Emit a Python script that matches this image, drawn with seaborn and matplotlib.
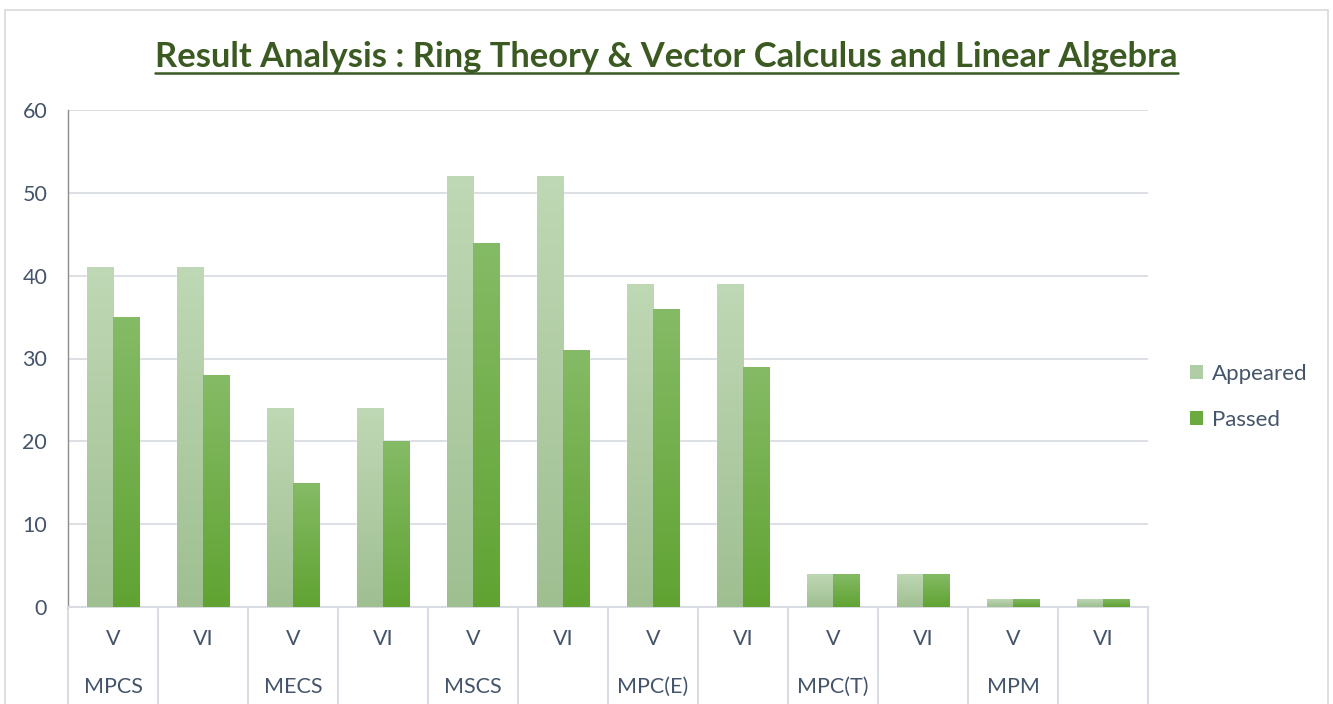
import matplotlib
matplotlib.use("Agg")
import matplotlib.pyplot as plt
import matplotlib.transforms as mtransforms
from matplotlib.colors import LinearSegmentedColormap
from matplotlib.patches import Rectangle
import numpy as np
import pandas as pd
import seaborn as sns

# data
semesters = ["V", "VI", "V", "VI", "V", "VI", "V", "VI", "V", "VI", "V", "VI"]
groups = ["MPCS", "MECS", "MSCS", "MPC(E)", "MPC(T)", "MPM"]
appeared = [41, 41, 24, 24, 52, 52, 39, 39, 4, 4, 1, 1]
passed = [35, 28, 15, 20, 44, 31, 36, 29, 4, 4, 1, 1]
series = ["Appeared", "Passed"]

TEXT = "#44546a"
GRID = "#d9dde3"

slots = [f"{groups[i // 2]}-{semesters[i]}-{i}" for i in range(len(semesters))]
df = pd.DataFrame({
    "slot": slots * 2,
    "count": appeared + passed,
    "series": [series[0]] * len(slots) + [series[1]] * len(slots),
})

sns.set_theme(style="white")
plt.rcParams["font.family"] = ["Lato", "DejaVu Sans"]

fig = plt.figure(figsize=(13.33, 7.04), dpi=100)
ax = fig.add_axes([68 / 1333, 1 - 607 / 704, 1080 / 1333, 497 / 704])

# chart border
fig.patches.append(Rectangle((5 / 1333, -0.05), 1323 / 1333, 1 - 10 / 704 + 0.05,
                             transform=fig.transFigure, fill=False,
                             edgecolor="#d9d9d9", linewidth=1.2))

flat = {"Appeared": "#b1cda6", "Passed": "#72ae48"}
sns.barplot(data=df, x="slot", y="count", hue="series", order=slots,
            hue_order=series, palette=flat, width=0.58, gap=0,
            saturation=1, ax=ax, legend=False, zorder=3)

# vertical gradient on each bar (light top, darker bottom)
cmaps = {
    "Appeared": LinearSegmentedColormap.from_list("a", ["#9fbf91", "#bfd8b5"]),
    "Passed": LinearSegmentedColormap.from_list("p", ["#60a332", "#85bb66"]),
}
grad = np.linspace(0, 1, 256).reshape(-1, 1)
n = len(slots)
for k, patch in enumerate(ax.patches[:2 * n]):
    name = series[k // n]
    x0, y0 = patch.get_x(), patch.get_y()
    w, h = patch.get_width(), patch.get_height()
    if h <= 0:
        continue
    im = ax.imshow(grad, cmap=cmaps[name], origin="lower", aspect="auto",
                   extent=[x0, x0 + w, y0, y0 + h], zorder=4)
    im.set_clip_path(patch)
ax.set_xlim(-0.5, len(slots) - 0.5)
ax.set_ylim(0, 60)

# axes styling
ax.set_yticks(range(0, 61, 10))
ax.yaxis.grid(True, color=GRID, linewidth=1.3, zorder=0)
ax.set_axisbelow(True)
for s in ["top", "right"]:
    ax.spines[s].set_visible(False)
ax.spines["left"].set_color("#8c8c8c")
ax.spines["left"].set_linewidth(1.0)
ax.spines["bottom"].set_color(GRID)
ax.spines["bottom"].set_linewidth(1.5)
ax.tick_params(axis="y", length=0, pad=15, labelsize=15.5, labelcolor=TEXT)
ax.tick_params(axis="x", length=0, labelbottom=False)
ax.set_xlabel("")
ax.set_ylabel("")

# two-level category axis
trans = mtransforms.blended_transform_factory(ax.transData, ax.transAxes)
for b in np.arange(-0.5, len(slots), 1.0):
    ax.plot([b, b], [0, -0.2], transform=trans, color=GRID, linewidth=1.5,
            clip_on=False, zorder=1)
for i, sem in enumerate(semesters):
    ax.text(i, -32 / 497, sem, transform=trans, ha="center", va="center",
            fontsize=15.5, color=TEXT)
for j, g in enumerate(groups):
    ax.text(2 * j, -80 / 497, g, transform=trans, ha="center", va="center",
            fontsize=15.5, color=TEXT)

# legend
handles = [Rectangle((0, 0), 1, 1, facecolor=c, edgecolor="none")
           for c in ["#b1cda6", "#6aaa3e"]]
fig.legend(handles, series, loc="center left", bbox_to_anchor=(1170 / 1333, 1 - 397 / 704),
           frameon=False, fontsize=16, labelcolor=TEXT, handlelength=0.6,
           handleheight=0.6, handletextpad=0.4, labelspacing=1.15)

# underlined title
title = fig.text(0.5, 1 - 57 / 704, "Result Analysis : Ring Theory & Vector Calculus and Linear Algebra",
                 ha="center", va="center", fontsize=24.8, fontweight="bold", color="#3b5a22")
fig.canvas.draw()
bb = title.get_window_extent().transformed(fig.transFigure.inverted())
fig.add_artist(plt.Line2D([bb.x0, bb.x1], [1 - 73 / 704] * 2, transform=fig.transFigure,
                          color="#3b5a22", linewidth=1.8))

fig.savefig("out.png", dpi=100)
